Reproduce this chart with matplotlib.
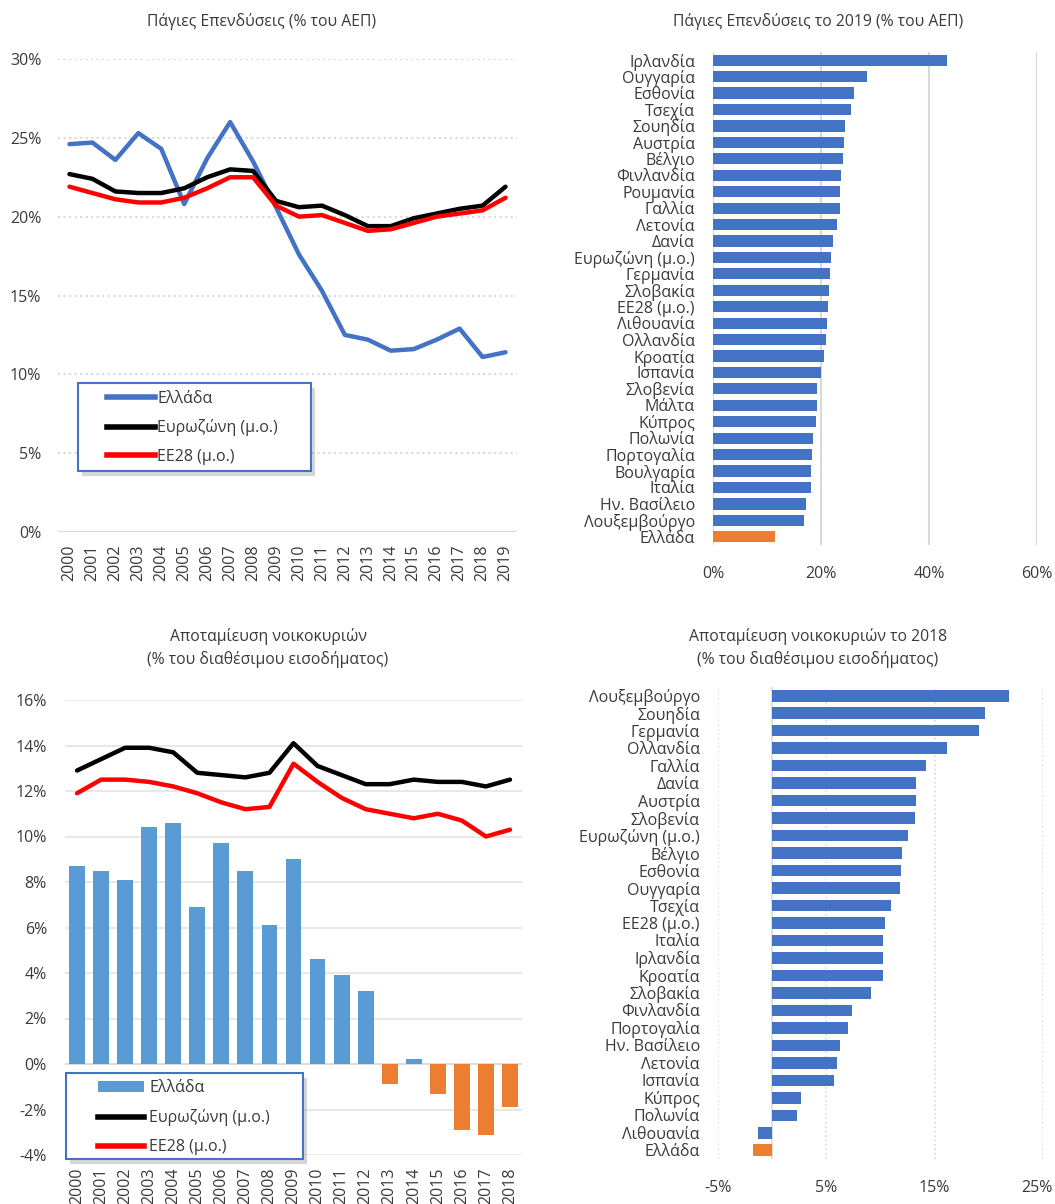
import numpy as np
import matplotlib.pyplot as plt
from matplotlib.patches import Rectangle, Patch
from matplotlib.lines import Line2D
from matplotlib.ticker import FuncFormatter
from matplotlib.transforms import ScaledTranslation

plt.rcParams['font.family'] = ['Open Sans', 'DejaVu Sans']

# --- Fixed investment (% of GDP), 2000-2019 ---
years_inv = [str(y) for y in range(2000, 2020)]
greece_inv = [24.6, 24.7, 23.6, 25.3, 24.3, 20.8, 23.7, 26.0, 23.5, 20.6,
              17.6, 15.3, 12.5, 12.2, 11.5, 11.6, 12.2, 12.9, 11.1, 11.4]
ez_inv = [22.7, 22.4, 21.6, 21.5, 21.5, 21.8, 22.5, 23.0, 22.9, 21.0,
          20.6, 20.7, 20.1, 19.4, 19.4, 19.9, 20.2, 20.5, 20.7, 21.9]
eu_inv = [21.9, 21.5, 21.1, 20.9, 20.9, 21.2, 21.8, 22.5, 22.5, 20.7,
          20.0, 20.1, 19.6, 19.1, 19.2, 19.6, 20.0, 20.2, 20.4, 21.2]

# --- Fixed investment in 2019 by country ---
countries_inv = ['Ιρλανδία', 'Ουγγαρία', 'Εσθονία', 'Τσεχία', 'Σουηδία', 'Αυστρία',
                 'Βέλγιο', 'Φινλανδία', 'Ρουμανία', 'Γαλλία', 'Λετονία', 'Δανία',
                 'Ευρωζώνη (μ.ο.)', 'Γερμανία', 'Σλοβακία', 'ΕΕ28 (μ.ο.)', 'Λιθουανία',
                 'Ολλανδία', 'Κροατία', 'Ισπανία', 'Σλοβενία', 'Μάλτα', 'Κύπρος',
                 'Πολωνία', 'Πορτογαλία', 'Βουλγαρία', 'Ιταλία', 'Ην. Βασίλειο',
                 'Λουξεμβούργο', 'Ελλάδα']
values_inv = [43.3, 28.5, 26.1, 25.6, 24.5, 24.3, 24.1, 23.7, 23.6, 23.6, 22.9, 22.2,
              21.9, 21.6, 21.5, 21.3, 21.1, 21.0, 20.6, 20.0, 19.3, 19.2, 19.0,
              18.5, 18.3, 18.2, 18.1, 17.2, 16.9, 11.5]

# --- Household saving (% of disposable income), 2000-2018 ---
years_sav = [str(y) for y in range(2000, 2019)]
greece_sav = [8.7, 8.5, 8.1, 10.4, 10.6, 6.9, 9.7, 8.5, 6.1, 9.0,
              4.6, 3.9, 3.2, -0.9, 0.2, -1.3, -2.9, -3.1, -1.9]
ez_sav = [12.9, 13.4, 13.9, 13.9, 13.7, 12.8, 12.7, 12.6, 12.8, 14.1,
          13.1, 12.7, 12.3, 12.3, 12.5, 12.4, 12.4, 12.2, 12.5]
eu_sav = [11.9, 12.5, 12.5, 12.4, 12.2, 11.9, 11.5, 11.2, 11.3, 13.2,
          12.4, 11.7, 11.2, 11.0, 10.8, 11.0, 10.7, 10.0, 10.3]

# --- Household saving in 2018 by country ---
countries_sav = ['Λουξεμβούργο', 'Σουηδία', 'Γερμανία', 'Ολλανδία', 'Γαλλία', 'Δανία',
                 'Αυστρία', 'Σλοβενία', 'Ευρωζώνη (μ.ο.)', 'Βέλγιο', 'Εσθονία',
                 'Ουγγαρία', 'Τσεχία', 'ΕΕ28 (μ.ο.)', 'Ιταλία', 'Ιρλανδία', 'Κροατία',
                 'Σλοβακία', 'Φινλανδία', 'Πορτογαλία', 'Ην. Βασίλειο', 'Λετονία',
                 'Ισπανία', 'Κύπρος', 'Πολωνία', 'Λιθουανία', 'Ελλάδα']
values_sav = [21.9, 19.6, 19.1, 16.1, 14.2, 13.3, 13.3, 13.2, 12.5, 12.0, 11.9,
              11.8, 11.0, 10.4, 10.2, 10.2, 10.2, 9.1, 7.4, 7.0, 6.3, 6.0,
              5.7, 2.7, 2.3, -1.3, -1.8]

BLUE = '#4472C4'
LBLUE = '#5B9BD5'
ORANGE = '#ED7D31'
TXT = '#3a3a3a'
GRID = '#d9d9d9'
FS = 11.5

W, H = 1055, 1204
fig = plt.figure(figsize=(W / 100, H / 100), dpi=100)
pct = FuncFormatter(lambda v, p: '%d%%' % v)


def px_axes(x0, y0, x1, y1):
	# axes from pixel box (top-left origin)
	return fig.add_axes([x0 / W, 1 - y1 / H, (x1 - x0) / W, (y1 - y0) / H])


def legend_box(x0, y0, x1, y1):
	shadow = Rectangle(((x0 + 4) / W, 1 - (y1 + 5) / H), (x1 - x0) / W, (y1 - y0) / H,
	                   transform=fig.transFigure, facecolor='#9a9a9a', alpha=0.4,
	                   edgecolor='none', zorder=3)
	box = Rectangle((x0 / W, 1 - y1 / H), (x1 - x0) / W, (y1 - y0) / H,
	                transform=fig.transFigure, facecolor='white', edgecolor=BLUE,
	                lw=1.5, zorder=4)
	fig.patches.extend([shadow, box])


def clean(ax):
	for s in ax.spines.values():
		s.set_visible(False)
	ax.tick_params(length=0, colors=TXT)


# ---------------- Top-left: line chart ----------------
ax1 = px_axes(58, 59, 517, 532)
x = np.arange(len(years_inv))
ax1.plot(x, greece_inv, color=BLUE, lw=3.2, solid_joinstyle='round', solid_capstyle='round')
ax1.plot(x, ez_inv, color='black', lw=3.2, solid_joinstyle='round', solid_capstyle='round')
ax1.plot(x, eu_inv, color='#ff0000', lw=3.2, solid_joinstyle='round', solid_capstyle='round')
ax1.set_xlim(-0.5, len(years_inv) - 0.5)
ax1.set_ylim(0, 30)
ax1.set_yticks(np.arange(0, 31, 5))
ax1.yaxis.set_major_formatter(pct)
ax1.set_xticks(x)
ax1.set_xticklabels(years_inv, rotation=90, fontsize=FS)
ax1.tick_params(axis='y', labelsize=FS, pad=12)
ax1.tick_params(axis='x', pad=9)
ax1.yaxis.grid(True, color=GRID, ls=':', lw=1.5)
ax1.axhline(0, color=GRID, lw=1.5)
ax1.set_axisbelow(True)
clean(ax1)

legend_box(78, 383, 311, 471)
fig.legend([Line2D([], [], color=BLUE, lw=4), Line2D([], [], color='black', lw=4),
            Line2D([], [], color='#ff0000', lw=4)],
           ['Ελλάδα', 'Ευρωζώνη (μ.ο.)', 'ΕΕ28 (μ.ο.)'],
           loc='upper left', bbox_to_anchor=(107 / W, 1 - 391 / H), frameon=False,
           borderpad=0, borderaxespad=0, handlelength=3.0, handletextpad=0.15,
           labelspacing=0.78, fontsize=FS, labelcolor=TXT)

# ---------------- Top-right: horizontal bars ----------------
ax2 = px_axes(713, 52, 1037, 545)
y = np.arange(len(countries_inv))
cols = [ORANGE if c == 'Ελλάδα' else BLUE for c in countries_inv]
ax2.barh(y, values_inv, height=0.68, color=cols)
ax2.set_ylim(len(countries_inv) - 0.5, -0.5)
ax2.set_xlim(0, 60)
ax2.set_xticks([0, 20, 40, 60])
ax2.xaxis.set_major_formatter(pct)
ax2.set_yticks(y)
ax2.set_yticklabels(countries_inv, fontsize=FS)
ax2.tick_params(axis='y', pad=13)
ax2.tick_params(axis='x', pad=15, labelsize=FS)
ax2.xaxis.grid(True, color=GRID, lw=1.5)
ax2.set_axisbelow(True)
clean(ax2)

# ---------------- Bottom-left: bars + lines ----------------
ax3 = px_axes(65, 700, 522, 1155)
x = np.arange(len(years_sav))
bcols = [LBLUE if v >= 0 else ORANGE for v in greece_sav]
ax3.bar(x, greece_sav, width=0.66, color=bcols, zorder=2)
ax3.plot(x, ez_sav, color='black', lw=3.2, solid_joinstyle='round', solid_capstyle='round', zorder=3)
ax3.plot(x, eu_sav, color='#ff0000', lw=3.2, solid_joinstyle='round', solid_capstyle='round', zorder=3)
ax3.set_xlim(-0.5, len(years_sav) - 0.5)
ax3.set_ylim(-4, 16)
ax3.set_yticks(np.arange(-4, 17, 2))
ax3.yaxis.set_major_formatter(pct)
ax3.set_xticks(x)
ax3.set_xticklabels(years_sav, rotation=90, fontsize=FS)
ax3.tick_params(axis='y', labelsize=FS, pad=13)
ax3.tick_params(axis='x', pad=9)
ax3.yaxis.grid(True, color='#e4e4e4', lw=1.2)
ax3.axhline(0, color=GRID, lw=1.2, zorder=1)
ax3.set_axisbelow(True)
clean(ax3)

legend_box(66, 1073, 303, 1159)
fig.legend([Patch(facecolor=LBLUE), Line2D([], [], color='black', lw=4),
            Line2D([], [], color='#ff0000', lw=4)],
           ['Ελλάδα', 'Ευρωζώνη (μ.ο.)', 'ΕΕ28 (μ.ο.)'],
           loc='upper left', bbox_to_anchor=(98 / W, 1 - 1080 / H), frameon=False,
           borderpad=0, borderaxespad=0, handlelength=2.9, handletextpad=0.3,
           labelspacing=0.82, fontsize=FS, labelcolor=TXT)

# ---------------- Bottom-right: horizontal bars ----------------
ax4 = px_axes(718, 687, 1043, 1159)
y = np.arange(len(countries_sav))
cols = [ORANGE if c == 'Ελλάδα' else BLUE for c in countries_sav]
ax4.barh(y, values_sav, height=0.66, color=cols)
ax4.set_ylim(len(countries_sav) - 0.5, -0.5)
ax4.set_xlim(-5, 25)
ax4.set_xticks([-5, 5, 15, 25])
ax4.xaxis.set_major_formatter(pct)
ax4.set_yticks(y)
ax4.set_yticklabels(countries_sav, fontsize=FS)
ax4.tick_params(axis='y', pad=13)
ax4.tick_params(axis='x', pad=15, labelsize=FS)
ax4.xaxis.grid(True, color=GRID, lw=1.2, ls=':')
ax4.axvline(0, color=GRID, lw=1.2, zorder=0)
ax4.set_axisbelow(True)
clean(ax4)
# keep the last tick label inside the figure edge
last = ax4.get_xticklabels()[-1]
last.set_transform(last.get_transform() + ScaledTranslation(-6 / 100, 0, fig.dpi_scale_trans))

# ---------------- Titles ----------------
fig.text(262 / W, 1 - 22 / H, 'Πάγιες Επενδύσεις (% του ΑΕΠ)', ha='center', va='center',
         fontsize=11.3, color=TXT)
fig.text(818 / W, 1 - 22 / H, 'Πάγιες Επενδύσεις το 2019 (% του ΑΕΠ)', ha='center',
         va='center', fontsize=11.3, color=TXT)
fig.text(268 / W, 1 - 648 / H, 'Αποταμίευση νοικοκυριών\n(% του διαθέσιμου εισοδήματος)',
         ha='center', va='center', fontsize=11.3, color=TXT, linespacing=1.45)
fig.text(818 / W, 1 - 648 / H, 'Αποταμίευση νοικοκυριών το 2018\n(% του διαθέσιμου εισοδήματος)',
         ha='center', va='center', fontsize=11.3, color=TXT, linespacing=1.45)

fig.savefig('out.png', dpi=100)
